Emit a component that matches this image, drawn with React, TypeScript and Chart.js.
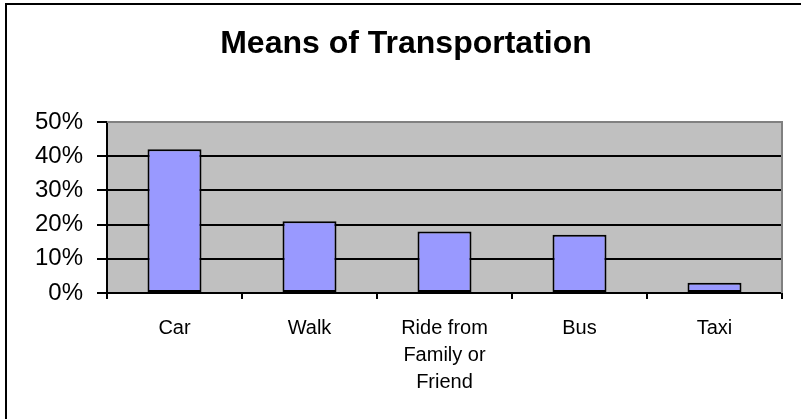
import React, { useEffect, useRef } from "react";
import { Chart, registerables } from "chart.js";

Chart.register(...registerables);

const categories: (string | string[])[] = ["Car", "Walk", ["Ride from", "Family or", "Friend"], "Bus", "Taxi"];
const shares: number[] = [42, 21, 18, 17, 3];
const yTicks: number[] = [0, 10, 20, 30, 40, 50];
const chartTitle = "Means of Transportation";

const plotBg = {
  id: "plotBg",
  beforeDraw(chart: any) {
    const { ctx, chartArea } = chart;
    ctx.save();
    ctx.fillStyle = "#C0C0C0";
    ctx.fillRect(chartArea.left, chartArea.top, chartArea.right - chartArea.left, chartArea.bottom - chartArea.top);
    ctx.restore();
  },
  afterDatasetsDraw(chart: any) {
    const { ctx, chartArea } = chart;
    ctx.save();
    ctx.strokeStyle = "#808080";
    ctx.lineWidth = 2;
    ctx.beginPath();
    ctx.moveTo(chartArea.left, chartArea.top);
    ctx.lineTo(chartArea.right, chartArea.top);
    ctx.lineTo(chartArea.right, chartArea.bottom);
    ctx.stroke();
    ctx.restore();
  },
};

export default function App() {
  const ref = useRef<HTMLCanvasElement | null>(null);
  useEffect(() => {
    if (!ref.current) return;
    const chart = new Chart(ref.current, {
      type: "bar",
      data: {
        labels: categories,
        datasets: [
          {
            data: shares,
            backgroundColor: "#9999FF",
            borderColor: "#000000",
            borderWidth: 2,
            borderSkipped: false,
            barPercentage: 0.4,
            categoryPercentage: 1,
          },
        ],
      },
      options: {
        responsive: false,
        animation: false,
        devicePixelRatio: 1,
        layout: { padding: { left: 30, right: 19, top: 0, bottom: 0 } },
        plugins: {
          legend: { display: false },
          tooltip: { enabled: false },
          title: {
            display: true,
            text: chartTitle,
            color: "#000",
            font: { family: "'Liberation Sans', Arial, sans-serif", size: 32, weight: "bold", lineHeight: 1.2 },
            padding: { top: 25, bottom: 58.6 },
          },
        },
        scales: {
          x: {
            grid: {
              offset: true,
              drawOnChartArea: false,
              drawTicks: true,
              tickLength: 6,
              tickColor: "#000",
              tickWidth: 2,
              lineWidth: 2,
            },
            border: { display: true, color: "#000", width: 2 },
            ticks: {
              color: "#000",
              padding: 16,
              maxRotation: 0,
              autoSkip: false,
              font: { family: "'Liberation Sans', Arial, sans-serif", size: 20, lineHeight: 1.35 },
            },
            afterFit(scale: any) {
              scale.height = 126;
            },
          },
          y: {
            min: 0,
            max: 50,
            afterBuildTicks(scale: any) {
              scale.ticks = yTicks.map((v) => ({ value: v }));
            },
            grid: {
              color: (c: any) => (c.tick && c.tick.value === 50 ? "#808080" : "#000"),
              lineWidth: 2,
              tickLength: 10,
              tickColor: "#000",
              tickWidth: 2,
            },
            border: { display: true, color: "#000", width: 2 },
            ticks: {
              color: "#000",
              padding: 14,
              callback: (v: any) => v + "%",
              font: { family: "'Liberation Sans', Arial, sans-serif", size: 24 },
            },
            afterFit(scale: any) {
              scale.width = 77;
            },
          },
        },
      },
      plugins: [plotBg],
    });
    return () => chart.destroy();
  }, []);

  return (
    <div style={{ position: "fixed", left: 0, top: 0, width: 801, height: 419, overflow: "hidden", background: "#fff" }}>
      <div
        style={{
          position: "absolute",
          left: 5,
          top: 3,
          width: 900,
          height: 500,
          border: "2px solid #000",
          boxSizing: "border-box",
        }}
      />
      <canvas ref={ref} width={801} height={419} style={{ position: "absolute", left: 0, top: 0, width: 801, height: 419 }} />
    </div>
  );
}
